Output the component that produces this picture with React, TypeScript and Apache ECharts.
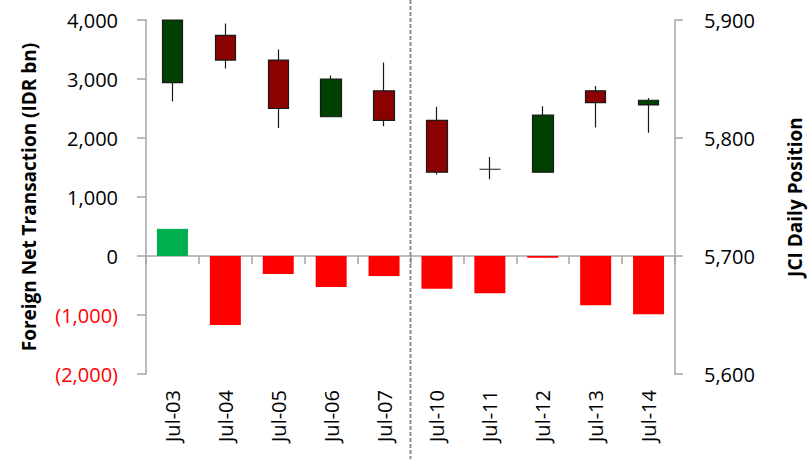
import React, { useEffect, useRef } from "react";
import * as echarts from "echarts";

const categories = ["Jul-03", "Jul-04", "Jul-05", "Jul-06", "Jul-07", "Jul-10", "Jul-11", "Jul-12", "Jul-13", "Jul-14"];
// Foreign net transaction, IDR bn
const netFlow = [460, -1170, -305, -525, -340, -553, -632, -30, -836, -988];
// JCI candles: [open, close, low, high]
const jciOpen = [5847, 5887, 5866, 5818, 5840, 5815, 5773.5, 5771, 5840, 5828];
const jciClose = [5900, 5866, 5825, 5850, 5815, 5771, 5773.5, 5819.5, 5830, 5832];
const jciLow = [5831, 5859, 5808.5, 5818, 5810, 5769, 5765, 5771, 5809, 5804.5];
const jciHigh = [5900, 5897, 5875, 5853, 5864, 5826.5, 5784, 5827, 5844, 5834];
const leftTicks = { min: -2000, max: 4000, interval: 1000 };
const rightTicks = { min: 5600, max: 5900, interval: 100 };
const splitAfter = "Jul-07";
const splitBefore = "Jul-10";

const FONT = "'Open Sans', sans-serif";
const AXIS_GRAY = "#A6A6A6";

const fmt = (v: number) => Math.abs(v).toLocaleString("en-US");

export default function App() {
  const ref = useRef<HTMLDivElement>(null);
  useEffect(() => {
    if (!ref.current) return;
    const chart = echarts.init(ref.current, undefined, { renderer: "svg" });
    const candleData = categories.map((_, i) => [jciOpen[i], jciClose[i], jciLow[i], jciHigh[i]]);
    chart.setOption({
      animation: false,
      textStyle: { fontFamily: FONT },
      grid: { left: 146, right: 134, top: 20, bottom: 85, containLabel: false },
      xAxis: [
        {
          type: "category",
          data: categories,
          boundaryGap: true,
          axisLine: { onZero: true, lineStyle: { color: AXIS_GRAY, width: 1.5 } },
          axisTick: { show: true, inside: false, length: 8, lineStyle: { color: AXIS_GRAY, width: 1.5 } },
          axisLabel: { show: false },
          splitLine: { show: false },
        },
        {
          type: "category",
          data: categories,
          position: "bottom",
          boundaryGap: true,
          axisLine: { show: false, onZero: false },
          axisTick: { show: false },
          axisLabel: { rotate: 90, margin: 16, fontSize: 20, color: "#000", fontFamily: FONT },
          splitLine: { show: false },
        },
      ],
      yAxis: [
        {
          type: "value",
          min: leftTicks.min,
          max: leftTicks.max,
          interval: leftTicks.interval,
          position: "left",
          name: "Foreign Net Transaction (IDR bn)",
          nameLocation: "middle",
          nameRotate: 90,
          nameGap: 108,
          nameTextStyle: { fontSize: 19, fontWeight: "bold", color: "#000", fontFamily: FONT },
          axisLine: { show: true, lineStyle: { color: AXIS_GRAY, width: 1.5 } },
          axisTick: { show: true, inside: false, length: 9, lineStyle: { color: AXIS_GRAY, width: 1.5 } },
          axisLabel: {
            margin: 28,
            fontSize: 20,
            fontFamily: FONT,
            formatter: (v: number) => (v < 0 ? `(${fmt(v)})` : fmt(v)),
            color: (v: any) => (Number(v) < 0 ? "#FF0000" : "#000"),
          },
          splitLine: { show: false },
        },
        {
          type: "value",
          min: rightTicks.min,
          max: rightTicks.max,
          interval: rightTicks.interval,
          position: "right",
          name: "JCI Daily Position",
          nameLocation: "middle",
          nameRotate: 90,
          nameGap: 110,
          nameTextStyle: { fontSize: 19, fontWeight: "bold", color: "#000", fontFamily: FONT },
          axisLine: { show: true, lineStyle: { color: AXIS_GRAY, width: 1.5 } },
          axisTick: { show: true, inside: false, length: 8, lineStyle: { color: AXIS_GRAY, width: 1.5 } },
          axisLabel: {
            margin: 29,
            fontSize: 20,
            fontFamily: FONT,
            color: "#000",
            formatter: (v: number) => fmt(v),
          },
          splitLine: { show: false },
        },
      ],
      series: [
        {
          type: "bar",
          xAxisIndex: 0,
          yAxisIndex: 0,
          barWidth: 31,
          data: netFlow.map((v) => ({
            value: v,
            itemStyle: { color: v >= 0 ? "#00B050" : "#FF0000" },
          })),
        },
        {
          type: "candlestick",
          xAxisIndex: 0,
          yAxisIndex: 1,
          barWidth: 21,
          data: candleData,
          itemStyle: {
            color: "#004000",
            color0: "#8B0000",
            borderColor: "#1a1a1a",
            borderColor0: "#1a1a1a",
            borderWidth: 1.2,
          },
        },
      ],
    });
    const x1 = chart.convertToPixel({ xAxisIndex: 0 }, splitAfter) as number;
    const x2 = chart.convertToPixel({ xAxisIndex: 0 }, splitBefore) as number;
    const xs = (x1 + x2) / 2;
    chart.setOption({
      graphic: [
        {
          type: "line",
          shape: { x1: xs, y1: 0, x2: xs, y2: 459 },
          style: { stroke: "#8C8C8C", lineWidth: 2, lineDash: [4, 2] },
          z: 100,
        },
      ],
    });
    return () => chart.dispose();
  }, []);
  return (
    <div
      ref={ref}
      style={{ position: "fixed", left: 0, top: 0, width: 812, height: 459, background: "#fff" }}
    />
  );
}
